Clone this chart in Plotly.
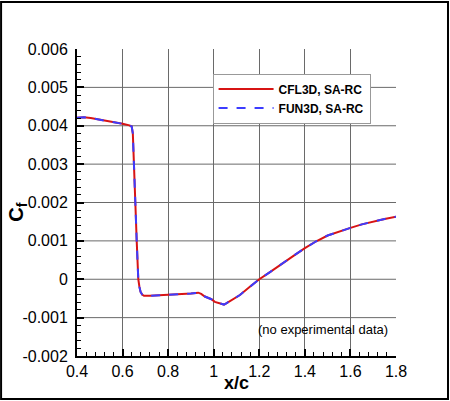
import plotly.graph_objects as go

# --- данные ---
x_cfl3d = [0.40, 0.43, 0.46, 0.50, 0.55, 0.60, 0.630, 0.640, 0.645, 0.648, 0.650, 0.653,
           0.656, 0.659, 0.662, 0.665, 0.669, 0.674, 0.679, 0.686, 0.694, 0.72, 0.76, 0.80,
           0.85, 0.90, 0.932, 0.945, 0.961, 0.99, 1.005, 1.035, 1.045, 1.057, 1.08, 1.115,
           1.16, 1.20, 1.25, 1.29, 1.35, 1.40, 1.45, 1.50, 1.55, 1.60, 1.65, 1.70, 1.75, 1.80]
cf_cfl3d = [0.00421, 0.00422, 0.00420, 0.00416, 0.00410, 0.00405, 0.00401, 0.00398, 0.00380,
            0.00340, 0.00300, 0.00250, 0.00200, 0.00150, 0.00100, 0.00050, 0.00000, -0.00020,
            -0.00033, -0.00040, -0.00043, -0.00043, -0.00042, -0.00041, -0.00039, -0.00037,
            -0.00035, -0.00038, -0.00045, -0.00052, -0.00059, -0.00065, -0.00066, -0.00062,
            -0.00054, -0.00041, -0.00019, 0.00000, 0.00020, 0.00037, 0.00061, 0.00081,
            0.00099, 0.00114, 0.00125, 0.00134, 0.00143, 0.00151, 0.00157, 0.00163]

# FUN3D практически совпадает с CFL3D
x_fun3d = list(x_cfl3d)
cf_fun3d = list(cf_cfl3d)

x_ticks = [0.4, 0.6, 0.8, 1.0, 1.2, 1.4, 1.6, 1.8]
x_ticklabels = ['0.4', '0.6', '0.8', '1', '1.2', '1.4', '1.6', '1.8']
y_ticks = [-0.002, -0.001, 0, 0.001, 0.002, 0.003, 0.004, 0.005, 0.006]
y_ticklabels = ['-0.002', '-0.001', '0', '0.001', '0.002', '0.003', '0.004', '0.005', '0.006']

FONT = 'Liberation Sans, Arial, Helvetica, sans-serif'
GRID = '#6a6a6a'

fig = go.Figure()

fig.add_trace(go.Scatter(
    x=x_cfl3d, y=cf_cfl3d, mode='lines', name='<b>CFL3D, SA-RC</b>',
    line=dict(color='rgb(215,20,20)', width=2)
))
fig.add_trace(go.Scatter(
    x=x_fun3d, y=cf_fun3d, mode='lines', name='<b>FUN3D, SA-RC</b>',
    line=dict(color='rgb(60,60,255)', width=2, dash='dash')
))

axis_common = dict(
    showline=True, linecolor='black', linewidth=2,
    ticks='inside', ticklen=7, tickwidth=2, tickcolor='black',
    zeroline=False, automargin=False,
    tickfont=dict(family=FONT, size=16, color='black'),
)

fig.update_xaxes(
    range=[0.4, 1.8], tickvals=x_ticks, ticktext=x_ticklabels,
    showgrid=True, gridcolor=GRID, gridwidth=1,
    minor=dict(ticks='inside', ticklen=4, tickwidth=1, tickcolor='black', dtick=0.04, showgrid=False),
    **axis_common
)
# горизонтальная сетка без линии на верхней границе (как в Tecplot)
fig.update_yaxes(
    range=[-0.002, 0.006], tickvals=y_ticks, ticktext=y_ticklabels,
    showgrid=False, ticklabelstandoff=4,
    minor=dict(ticks='inside', ticklen=4, tickwidth=1, tickcolor='black', dtick=0.0002, showgrid=False),
    **axis_common
)
for v in y_ticks[1:-1]:
    fig.add_hline(y=v, line=dict(color=GRID, width=1), layer='below')

# подписи осей
fig.add_annotation(x=0.5, y=-0.088, xref='paper', yref='paper', text='<b>x/c</b>',
                   showarrow=False, xanchor='center', yanchor='middle',
                   font=dict(family=FONT, size=18, color='black'))
fig.add_annotation(x=-0.185, y=0.47, xref='paper', yref='paper', text='<b>C<sub>f</sub></b>',
                   showarrow=False, xanchor='center', yanchor='middle', textangle=-90,
                   font=dict(family=FONT, size=20, color='black'))

# рамка вокруг всей картинки
fig.add_shape(type='rect', xref='paper', yref='paper',
              x0=-0.238, x1=1.163, y0=-0.140, y1=1.153,
              line=dict(color='black', width=2), fillcolor='rgba(0,0,0,0)')

fig.add_annotation(
    x=0.98, y=0.085, xref='paper', yref='paper', xanchor='right', yanchor='middle',
    text='(no experimental data)', showarrow=False,
    font=dict(family=FONT, size=13, color='black')
)

fig.update_layout(
    width=450, height=401,
    margin=dict(l=77, r=54, t=49, b=45),
    paper_bgcolor='white', plot_bgcolor='white',
    showlegend=True,
    legend=dict(
        x=0.425, y=0.92, xanchor='left', yanchor='top',
        bgcolor='white', bordercolor='#999999', borderwidth=1,
        font=dict(family=FONT, size=12, color='black'),
        itemwidth=55, tracegroupgap=0,
    ),
)

fig.write_html("out.html", config={'displayModeBar': False},
               post_script="document.body.style.margin='0px';")
